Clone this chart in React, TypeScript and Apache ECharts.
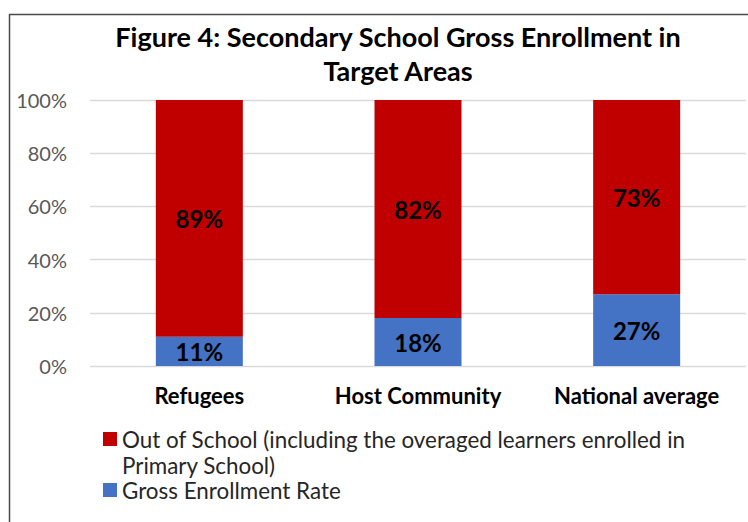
import React, { useEffect, useRef } from "react";
import * as echarts from "echarts";

const titleText = "Figure 4: Secondary School Gross Enrollment in\nTarget Areas";
const categories = ["Refugees", "Host Community", "National average"];
const enrollmentName = "Gross Enrollment Rate";
const outName = "Out of School (including the overaged learners enrolled in Primary School)";
const enrollment = [11, 18, 27];
const outOfSchool = [89, 82, 73];

const FONT = "Lato, 'Open Sans', sans-serif";

export default function App() {
  const ref = useRef<HTMLDivElement>(null);
  useEffect(() => {
    if (!ref.current) return;
    const chart = echarts.init(ref.current, undefined, { renderer: "svg" });
    const barLabel = {
      show: true,
      position: "inside",
      formatter: "{c}%",
      color: "#000000",
      fontWeight: "bold",
      fontSize: 24,
      fontFamily: FONT,
    };
    chart.setOption({
      animation: false,
      backgroundColor: "#ffffff",
      textStyle: { fontFamily: FONT },
      title: {
        text: titleText,
        left: 398,
        top: 19,
        padding: 0,
        textAlign: "center",
        textStyle: {
          fontFamily: FONT,
          fontSize: 27,
          fontWeight: "bold",
          color: "#000000",
          lineHeight: 34,
        },
      },
      graphic: [
        {
          type: "polyline",
          shape: { points: [[9.5, 522], [9.5, 14.5], [748, 14.5]] },
          style: { stroke: "#4a4a4a", lineWidth: 1.5, fill: "none" },
          silent: true,
        },
      ],
      legend: [
        {
          data: [{ name: outName }],
          orient: "vertical",
          left: 103,
          top: 400,
          padding: 0,
          icon: "rect",
          itemWidth: 14,
          itemHeight: 14,
          formatter: () =>
            "\nOut of School (including the overaged learners enrolled in\nPrimary School)",
          textStyle: { fontFamily: FONT, fontSize: 22.4, color: "#262626", lineHeight: 26 },
        },
        {
          data: [{ name: enrollmentName }],
          orient: "vertical",
          left: 103,
          top: 479,
          padding: 0,
          icon: "rect",
          itemWidth: 14,
          itemHeight: 14,
          textStyle: { fontFamily: FONT, fontSize: 22.4, color: "#262626", lineHeight: 22 },
        },
      ],
      grid: { left: 90, right: 2, top: 100, bottom: 156, containLabel: false },
      xAxis: {
        type: "category",
        data: categories,
        axisLine: { show: false },
        axisTick: { show: false },
        axisLabel: {
          margin: 18,
          fontSize: 22,
          fontWeight: "bold",
          color: "#000000",
          fontFamily: FONT,
          interval: 0,
        },
      },
      yAxis: {
        type: "value",
        min: 0,
        max: 100,
        interval: 20,
        axisLine: { show: false },
        axisTick: { show: false },
        splitLine: { lineStyle: { color: "#d9d9d9", width: 1.3 } },
        axisLabel: {
          formatter: "{value}%",
          fontSize: 20,
          color: "#595959",
          margin: 23,
          fontFamily: FONT,
        },
      },
      series: [
        {
          name: enrollmentName,
          type: "bar",
          stack: "total",
          data: enrollment,
          barWidth: 87,
          itemStyle: { color: "#4472C4" },
          label: barLabel,
        },
        {
          name: outName,
          type: "bar",
          stack: "total",
          data: outOfSchool,
          barWidth: 87,
          itemStyle: { color: "#C00000" },
          label: barLabel,
        },
      ],
    });
    return () => chart.dispose();
  }, []);
  return (
    <div
      ref={ref}
      style={{ position: "absolute", left: 0, top: 0, width: 748, height: 522, background: "#fff" }}
    />
  );
}
